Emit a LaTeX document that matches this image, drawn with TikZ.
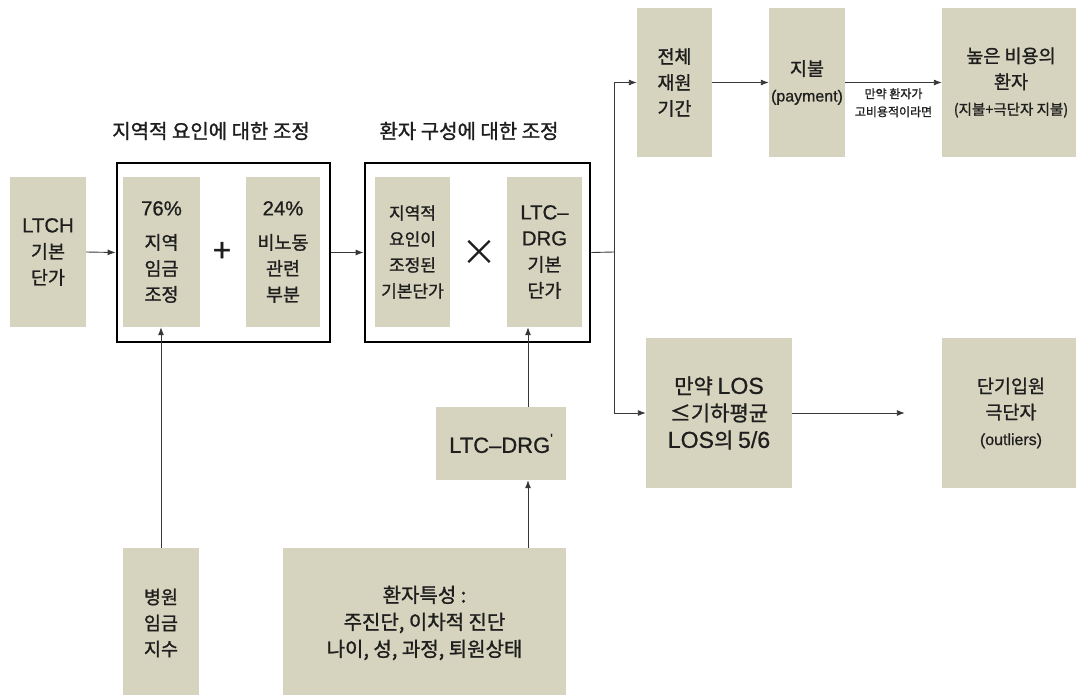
\documentclass[tikz,border=0pt]{standalone}
\usepackage{fontspec}
\setmainfont{Noto Sans CJK KR}[FakeBold=1.2]
\newfontfamily\lat{Liberation Sans}[FakeBold=0.8, Scale=1.1]
\newfontfamily\cjkn{Noto Sans CJK KR}
\usetikzlibrary{arrows.meta}
\definecolor{boxfill}{RGB}{214,211,190}
\definecolor{linegray}{RGB}{55,55,55}
\definecolor{txt}{RGB}{30,30,30}
\tikzset{
  bx/.style={fill=boxfill, draw=none, inner sep=0pt, align=center, text=txt,
             font=\fontsize{18.5}{26}\selectfont},
  big/.style={font=\fontsize{20}{27}\selectfont},
  frm/.style={draw=black, line width=2.8pt, inner sep=0pt, fill=none},
  arr/.style={draw=linegray, line width=0.9pt, -{Latex[length=8pt,width=6pt]}},
  ln/.style={draw=linegray, line width=0.9pt},
  ttl/.style={font=\fontsize{20}{24}\selectfont, text=txt},
  smalltxt/.style={font=\fontsize{12}{18}\selectfont, align=center, text=txt},
  opsym/.style={inner sep=0pt, text=txt}
}
\newcommand{\sm}[1]{{\fontsize{14.5}{22}\selectfont #1}}
\begin{document}
\begin{tikzpicture}[x=1pt,y=-1pt]
\useasboundingbox (0,0) rectangle (1076,695);
\clip (0,0) rectangle (1076,695);
\fill[white] (0,0) rectangle (1076,695);

% titles
\node[ttl] (t1) at (211,131) {지역적 요인에 대한 조정};
\node[ttl] (t2) at (469,131) {환자 구성에 대한 조정};

% left part
\node[bx, minimum width=76pt, minimum height=150pt] (ltch) at (48,252) {{\lat LTCH}\\기본\\단가};
\node[frm, minimum width=213pt, minimum height=179pt] (f1) at (223.5,252.5) {};
\node[bx, minimum width=77pt, minimum height=150pt] (w76) at (161.5,252) {{\lat 76\%}\\[8pt]지역\\임금\\조정};
\node[opsym, font=\fontsize{32}{32}\selectfont] (plus) at (222,252) {+};
\node[bx, minimum width=74pt, minimum height=150pt] (w24) at (283,252) {{\lat 24\%}\\[8pt]비노동\\관련\\부분};

% middle frame
\node[frm, minimum width=225pt, minimum height=179pt] (f2) at (477.5,252.5) {};
\node[bx, minimum width=75pt, minimum height=150pt, font=\fontsize{17}{26}\selectfont] (adj) at (412.5,252) {지역적\\요인이\\조정된\\기본단가};
\node[opsym, font=\fontsize{36}{36}\selectfont\cjkn] (times) at (479,253) {×};
\node[bx, minimum width=75pt, minimum height=150pt] (drg) at (544.5,252) {{\lat LTC–}\\{\lat DRG}\\기본\\단가};

% lower boxes
\node[bx, minimum width=130pt, minimum height=73pt, font=\fontsize{20}{26}\selectfont] (drgp) at (501,443.5) {{\lat LTC–DRG\raisebox{0.45em}{\fontsize{12}{12}\selectfont'}}};
\node[bx, big, minimum width=283pt, minimum height=150pt] (pat) at (424.5,623) {환자특성 :\\주진단, 이차적 진단\\나이, 성, 과정, 퇴원상태};
\node[bx, minimum width=76pt, minimum height=150pt] (hosp) at (161,623) {병원\\임금\\지수};

% right part
\node[bx, minimum width=75pt, minimum height=149pt] (jeon) at (674.5,82.5) {전체\\재원\\기간};
\node[bx, minimum width=76pt, minimum height=149pt] (pay) at (807,82.5) {지불\\\sm{\lat (payment)}};
\node[bx, minimum width=138pt, minimum height=149pt] (high) at (1011,82.5) {높은 비용의\\환자\\\sm{(지불+극단자 지불)}};
\node[bx, minimum width=146pt, minimum height=150pt, font=\fontsize{21}{27}\selectfont] (los) at (719,413) {만약 {\lat LOS}\\≤기하평균\\{\lat LOS}의 {\lat 5/6}};
\node[bx, minimum width=138pt, minimum height=150pt] (outl) at (1011,413) {단기입원\\극단자\\\sm{\lat (outliers)}};

% connectors
\coordinate (br) at (614,252);
\coordinate (ax) at (528,0);
\draw[arr] (ltch.east) -- (f1.west);
\draw[arr] (f1.east) -- (f2.west);
\draw[ln] (f2.east) -- (br);
\draw[arr] (br) |- (jeon.west);
\draw[arr] (br) |- (los.west);
\draw[arr] (jeon.east) -- (pay.west);
\draw[arr] (pay.east) -- node[smalltxt, below=2pt] {만약 환자가\\고비용적이라면} (high.west);
\draw[arr, shorten >=37pt] (los.east) -- (outl.west);
\draw[arr] (hosp.north) -- (hosp.north |- w76.south);
\draw[arr] (ax |- pat.north) -- (ax |- drgp.south);
\draw[arr] (ax |- drgp.north) -- (ax |- drg.south);
\end{tikzpicture}
\end{document}
